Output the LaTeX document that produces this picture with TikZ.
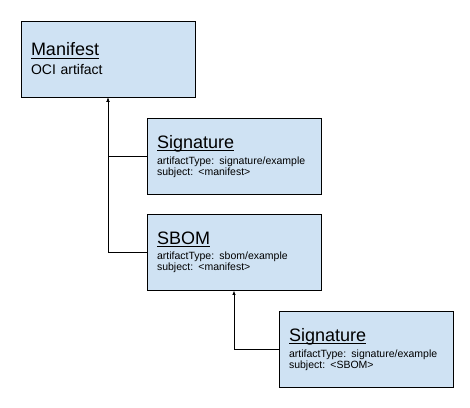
\documentclass[tikz,border=0pt]{standalone}
\usepackage{fontspec}
\setmainfont{Liberation Sans}
\usetikzlibrary{arrows.meta,positioning}
\definecolor{boxblue}{HTML}{CFE2F3}
\newcommand\boxtitle[1]{\setbox0\hbox{\fontsize{18}{18}\selectfont #1}\rlap{\rule[-2.5pt]{\wd0}{0.9pt}}\box0}

\begin{document}
\begin{tikzpicture}[x=1pt, y=-1pt]
\tikzstyle{artifact}=[draw=black, line width=0.9pt, fill=boxblue, minimum height=76pt, text width=154pt, inner xsep=10pt, align=left];
\tikzstyle{small}=[font=\fontsize{10.5}{11}\selectfont];
\tikzstyle{refers}=[-{Latex[length=4.5pt, width=3.5pt]}, line width=0.8pt];
\useasboundingbox (0, 0) rectangle (470, 407);

\node[artifact, font=\fontsize{14}{16}\selectfont] (manifest) at (108, 59) {\boxtitle{Manifest}\\[3pt] OCI artifact};
\node[artifact, small] (sig) at (234, 156.5) {\boxtitle{Signature}\\[4pt] artifactType: signature/example\\ subject: <manifest>};
\node[artifact, small] (sbom) at (234, 252) {\boxtitle{SBOM}\\[4pt] artifactType: sbom/example\\ subject: <manifest>};
\node[artifact, small] (sig2) at (366, 349.5) {\boxtitle{Signature}\\[4pt] artifactType: signature/example\\ subject: <SBOM>};

\draw[refers] (sig.west) -| (manifest.south);
\draw[refers] (sbom.west) -| (manifest.south);
\draw[refers] (sig2.west) -| (sbom.south);
\end{tikzpicture}
\end{document}
